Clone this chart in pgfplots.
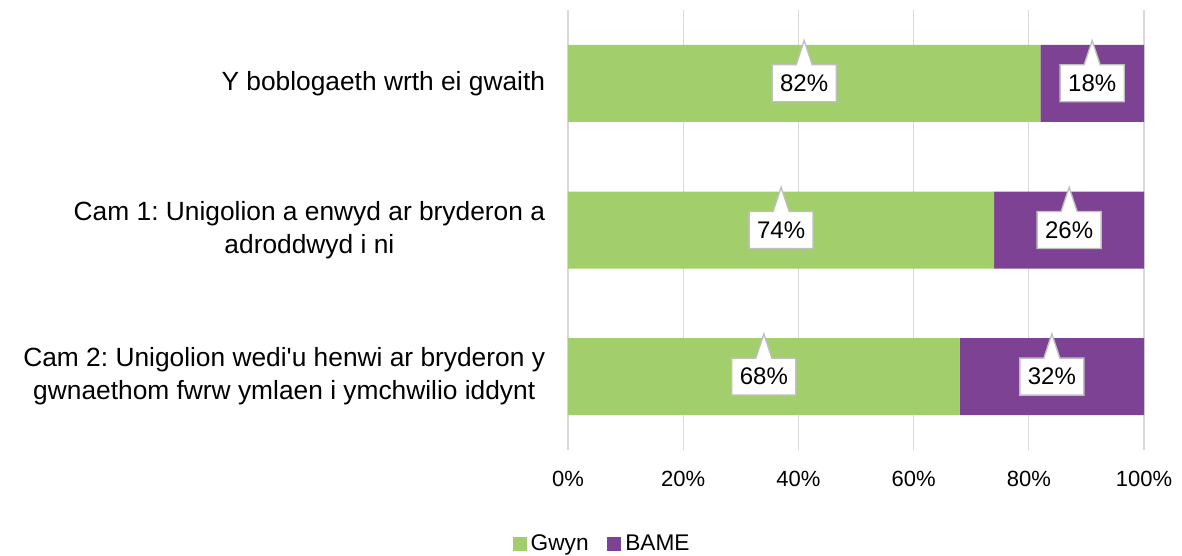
\documentclass[border=0pt]{standalone}
\usepackage{pgfplots}
\pgfplotsset{compat=1.18}
\usepackage{fontspec}
\setmainfont{Liberation Sans}
\usetikzlibrary{shapes.callouts}
\definecolor{gwyn}{RGB}{162,207,107}
\definecolor{bame}{RGB}{125,66,148}
\definecolor{gridc}{RGB}{217,217,217}
\definecolor{calloutc}{RGB}{191,191,191}
\frenchspacing
\begin{document}
\begin{tikzpicture}
\path[use as bounding box] (0,0) rectangle (886.5pt,417pt);
\pgfplotsset{
  base/.style={
    at={(426pt,79.5pt)}, anchor=south west,
    scale only axis, width=432pt, height=330pt,
    xmin=0, xmax=100, ymin=-0.5, ymax=2.5, y dir=reverse,
  }
}
\begin{axis}[base,
  xbar stacked, bar width=57.75pt,
  axis line style={draw=none},
  major tick length=0pt,
  xmajorgrids, grid style={gridc, line width=1pt},
  xtick={0,20,40,60,80,100},
  xticklabel={\pgfmathprintnumber{\tick}\%},
  /pgf/number format/assume math mode=true,
  xticklabel style={font=\fontsize{16.5}{20}\selectfont, inner sep=0pt, yshift=-16pt},
  ytick={0,1,2},
  yticklabels={Y boblogaeth wrth ei gwaith,
    {Cam 1: Unigolion a enwyd ar bryderon a\\adroddwyd i ni},
    {Cam 2: Unigolion wedi\textquotesingle u henwi ar bryderon y\\gwnaethom fwrw ymlaen i ymchwilio iddynt}},
  yticklabel style={font=\fontsize{19.75}{24.75}\selectfont, align=center, inner sep=0pt, xshift=-17pt},
  legend columns=2,
  legend style={draw=none, fill=none, at={(0.061,-0.2136)}, anchor=center,
    font=\fontsize{17}{20}\selectfont,
    /tikz/every even column/.append style={column sep=11pt},
    nodes={inner xsep=3pt, inner ysep=1.5pt}},
  legend image code/.code={\fill[#1] (0pt,-5.25pt) rectangle (10.5pt,5.25pt);},
]
\addplot[fill=gwyn, draw=none] coordinates {(82,0) (74,1) (68,2)};
\addplot[fill=bame, draw=none] coordinates {(18,0) (26,1) (32,2)};
\legend{Gwyn, BAME}
\end{axis}
\begin{axis}[base, hide axis]
\addplot[draw=none, nodes near coords, point meta=explicit symbolic,
  every node near coord/.append style={rectangle callout, fill=white, draw=calloutc,
    line width=1pt, callout relative pointer={(0pt,18.2pt)}, callout pointer width=12pt,
    anchor=center,
    inner xsep=6pt, inner ysep=0pt, minimum height=27.75pt,
    font=\fontsize{18}{22}\selectfont, text=black}]
  coordinates {(41,0)[82\%] (91,0)[18\%] (37,1)[74\%] (87,1)[26\%] (34,2)[68\%] (84,2)[32\%]};
\end{axis}
\end{tikzpicture}
\end{document}
